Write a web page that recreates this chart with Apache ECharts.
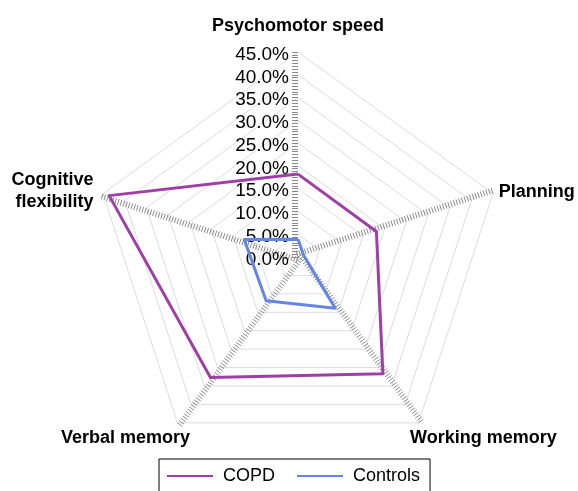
<!DOCTYPE html>
<html>
<head>
<meta charset="utf-8">
<script src="https://cdn.jsdelivr.net/npm/echarts@6/dist/echarts.min.js"></script>
<style>html,body{margin:0;padding:0;background:#fff}#c{width:578px;height:491px}</style>
</head>
<body>
<div id="c"></div>
<script>
const categories = ['Psychomotor speed', 'Planning', 'Working memory', 'Verbal memory', 'Cognitive\nflexibility'];
const copd = [18.2, 18.1, 31.7, 32.7, 43.6];
const controls = [3.9, 1.3, 13.9, 11.9, 12.4];
const axisMax = 45;
const seriesNames = ['COPD', 'Controls'];

const FONT = 'Liberation Sans, Arial, sans-serif';
// ECharts radar runs counter-clockwise; the reference runs clockwise
const order = [0, 4, 3, 2, 1];
const reorder = arr => order.map(i => arr[i]);

// per-category name placement tweaks (by category index)
const nameTweaks = {
  0: {nameGap: 15},
  1: {nameGap: 6},
  2: {nameGap: 5, nameTextStyle: {align: 'center', verticalAlign: 'top', padding: [0, 0, 0, 124]}},
  3: {nameGap: 5, nameTextStyle: {align: 'center', verticalAlign: 'top', padding: [0, 98, 0, 0]}},
  4: {nameGap: 10}
};

const chart = echarts.init(document.getElementById('c'), null, {renderer: 'canvas'});
const indicator = order.map((ci, k) => {
  const o = Object.assign({name: categories[ci], min: 0, max: axisMax}, nameTweaks[ci]);
  if (k > 0) o.axisLabel = {show: false};
  return o;
});
const tickIndicator = order.map(() => ({name: '', min: 0, max: axisMax}));
const CENTER = [298, 257], RADIUS = 205;
chart.setOption({
  animation: false,
  legend: {
    data: seriesNames,
    left: 159, top: 459,
    borderColor: '#000', borderWidth: 1,
    padding: [8, 10, 10, 8],
    itemGap: 22,
    itemWidth: 46, itemHeight: 2,
    icon: 'rect',
    formatter: n => ' ' + n,
    textStyle: {fontFamily: FONT, fontSize: 18, color: '#000'}
  },
  radar: [{
    center: CENTER,
    radius: RADIUS,
    startAngle: 90,
    shape: 'polygon',
    splitNumber: 9,
    indicator: indicator,
    nameGap: 10,
    axisName: {color: '#000', fontFamily: FONT, fontSize: 18, fontWeight: 'bold', lineHeight: 22},
    axisLine: {show: false},
    axisTick: {show: false},
    axisLabel: {show: true, color: '#000', fontFamily: FONT, fontSize: 19, margin: 9,
      formatter: v => '{a|' + v.toFixed(1) + '%}',
      rich: {a: {fontFamily: FONT, fontSize: 19, color: '#000', padding: [5, 0, 0, 0]}}},
    splitLine: {lineStyle: {color: '#dcdcdc', width: 1}},
    splitArea: {show: false}
  }, {
    center: CENTER,
    radius: RADIUS,
    startAngle: 90,
    shape: 'polygon',
    splitNumber: 72,
    indicator: tickIndicator,
    axisName: {show: false},
    axisLine: {show: false},
    axisTick: {show: true, length: 6, lineStyle: {color: '#8a8a8a', width: 1}},
    axisLabel: {show: false},
    splitLine: {show: false},
    splitArea: {show: false}
  }],
  series: [{
    type: 'radar',
    radarIndex: 0,
    symbol: 'none',
    z: 5,
    data: [
      {name: seriesNames[0], value: reorder(copd), lineStyle: {color: '#9e3ea6', width: 3}, itemStyle: {color: '#9e3ea6'}},
      {name: seriesNames[1], value: reorder(controls), lineStyle: {color: '#6585e2', width: 3}, itemStyle: {color: '#6585e2'}}
    ]
  }]
});
</script>
</body>
</html>
